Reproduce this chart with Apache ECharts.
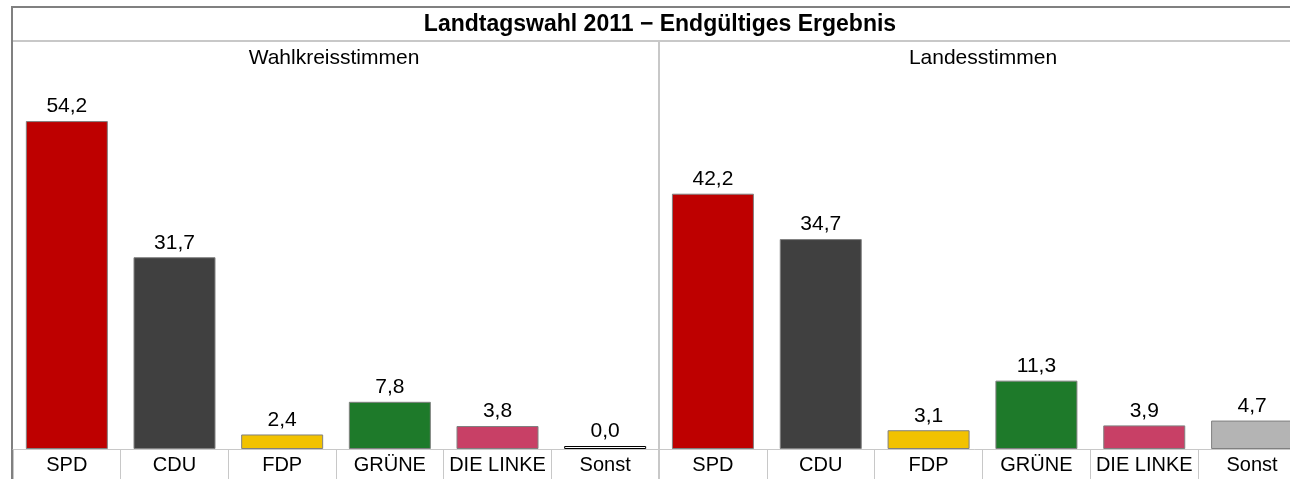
<!DOCTYPE html>
<html>
<head>
<meta charset="utf-8">
<script src="https://cdn.jsdelivr.net/npm/echarts@6/dist/echarts.min.js"></script>
<style>
  html, body { margin: 0; padding: 0; background: #fff; }
  #chart { width: 1290px; height: 479px; }
</style>
</head>
<body>
<div id="chart"></div>
<script>
// Daten
const categories = ['SPD', 'CDU', 'FDP', 'GRÜNE', 'DIE LINKE', 'Sonst']
const wahlkreisstimmen = [54.2, 31.7, 2.4, 7.8, 3.8, 0.0]
const landesstimmen = [42.2, 34.7, 3.1, 11.3, 3.9, 4.7]

// Farben
const partyColors = ['#be0000', '#404040', '#f2c200', '#1e7a2a', '#c84066', '#b4b4b4']
const fontName = '"Liberation Sans", Arial, sans-serif'
const lineColor = '#c8c8c8'
const frameColor = '#808080'

const myChart = echarts.init(document.getElementById('chart'))

const fmt = v => v.toFixed(1).replace('.', ',')

function makeSeries(values, idx, zeroWhite) {
  return {
    type: 'bar',
    xAxisIndex: idx,
    yAxisIndex: idx,
    barWidth: 82,
    barMinHeight: zeroWhite ? 3 : 0,
    data: values.map((v, i) => {
      let white = zeroWhite && v === 0
      return {
        value: v,
        itemStyle: {
          color: white ? '#ffffff' : partyColors[i],
          borderColor: white ? '#000000' : frameColor,
          borderWidth: 1
        }
      }
    }),
    label: {
      show: true,
      position: 'top',
      distance: 4,
      fontFamily: fontName,
      fontSize: 21,
      color: '#000',
      formatter: p => fmt(p.value)
    },
    animation: false
  }
}

function makeXAxis(idx) {
  return {
    type: 'category',
    gridIndex: idx,
    data: categories,
    axisLine: { show: true, lineStyle: { color: lineColor, width: 1 } },
    axisTick: { show: true, interval: 0, length: 32, lineStyle: { color: lineColor, width: 1 } },
    axisLabel: { interval: 0, fontFamily: fontName, fontSize: 20, color: '#000', margin: 6 }
  }
}

function makeYAxis(idx) {
  return {
    type: 'value',
    gridIndex: idx,
    min: 0,
    max: 60,
    show: false
  }
}

const option = {
  backgroundColor: '#fff',
  title: [
    {
      text: 'Landtagswahl 2011 − Endgültiges Ergebnis',
      left: 660, top: 13, textAlign: 'center', padding: 0,
      textStyle: { fontFamily: fontName, fontSize: 23, fontWeight: 'bold', color: '#000' }
    },
    {
      text: 'Wahlkreisstimmen',
      left: 334, top: 48, textAlign: 'center', padding: 0,
      textStyle: { fontFamily: fontName, fontSize: 21, fontWeight: 'normal', color: '#000' }
    },
    {
      text: 'Landesstimmen',
      left: 983, top: 48, textAlign: 'center', padding: 0,
      textStyle: { fontFamily: fontName, fontSize: 21, fontWeight: 'normal', color: '#000' }
    }
  ],
  grid: [
    { left: 13, top: 86, width: 646, bottom: 30, outerBoundsMode: 'none' },
    { left: 659, top: 86, width: 647, bottom: 30, outerBoundsMode: 'none' }
  ],
  xAxis: [makeXAxis(0), makeXAxis(1)],
  yAxis: [makeYAxis(0), makeYAxis(1)],
  series: [
    makeSeries(wahlkreisstimmen, 0, true),
    makeSeries(landesstimmen, 1, false)
  ],
  // Rahmenlinien
  graphic: [
    { type: 'line', shape: { x1: 12, y1: 7, x2: 1290, y2: 7 }, style: { stroke: frameColor, lineWidth: 2 } },
    { type: 'line', shape: { x1: 12, y1: 6, x2: 12, y2: 479 }, style: { stroke: frameColor, lineWidth: 2 } },
    { type: 'line', shape: { x1: 13, y1: 41, x2: 1290, y2: 41 }, style: { stroke: lineColor, lineWidth: 2 } },
    { type: 'line', shape: { x1: 659, y1: 41, x2: 659, y2: 479 }, style: { stroke: lineColor, lineWidth: 2 } }
  ],
  animation: false
}

myChart.setOption(option, true)
window.addEventListener('resize', () => myChart.resize())
</script>
</body>
</html>
